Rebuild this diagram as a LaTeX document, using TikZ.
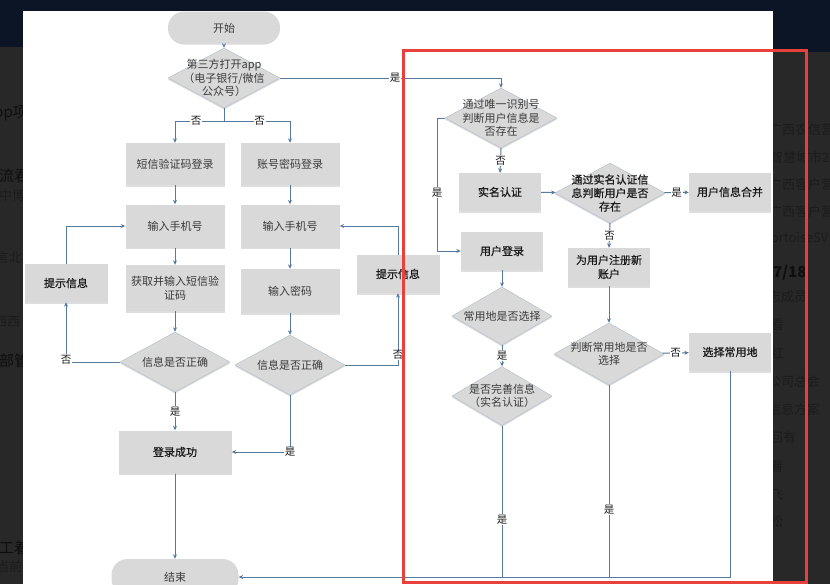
\documentclass[tikz,border=0pt]{standalone}
\usepackage{fontspec}
\setmainfont{Noto Sans CJK SC}
\newfontfamily\semibf{Noto Sans CJK SC}[FakeBold=0.6]
\usetikzlibrary{shapes.geometric,arrows.meta,shadows}
\definecolor{navy}{HTML}{0B1526}
\definecolor{darkbg}{HTML}{282828}
\definecolor{bgtextc}{HTML}{0E0E0E}
\definecolor{bgfaint}{HTML}{1C1C1C}
\definecolor{boxgray}{HTML}{D9D9D9}
\definecolor{diaedge}{HTML}{AEBBCB}
\definecolor{linecol}{HTML}{56799F}
\definecolor{redframe}{HTML}{E8413B}
\definecolor{txt}{HTML}{1A1A1A}
\definecolor{txtlight}{HTML}{3A3A3A}
\begin{document}
\begin{tikzpicture}[x=1pt,y=-1pt,
  shad/.style={drop shadow={shadow xshift=0pt,shadow yshift=-1.6pt,fill=black,opacity=0.13}},
  boxn/.style 2 args={rectangle,fill=boxgray,shad,minimum width=#1,minimum height=#2,inner sep=0pt,align=center,text=txt,font=\semibf\fontsize{11}{14}\selectfont},
  boxl/.style 2 args={boxn={#1}{#2},text=txtlight,font=\normalfont\fontsize{11}{14}\selectfont},
  term/.style 2 args={rectangle,rounded corners=16pt,fill=boxgray,minimum width=#1,minimum height=#2,inner sep=0pt,text=txtlight,font=\fontsize{11}{14}\selectfont},
  dia/.style 2 args={diamond,fill=boxgray,draw=diaedge,line width=0.4pt,shad,minimum width=#1,minimum height=#2,inner sep=0pt},
  dtext/.style={label={[align=center,text=txtlight,font=\fontsize{11}{13.5}\selectfont]center:#1}},
  dtextb/.style={label={[align=center,text=txt,font=\semibf\fontsize{11}{13.5}\selectfont]center:#1}},
  conn/.style={draw=linecol,line width=1pt},
  arr/.style={conn,-{Stealth[length=4.5pt,width=4pt]}},
  lbl/.style={fill=white,inner sep=0.8pt,text=txt,font=\fontsize{10.5}{12}\selectfont},
  bgt/.style={inner sep=0pt,anchor=west,font=\fontsize{15}{16}\selectfont\color{bgtextc}},
  bgf/.style={inner sep=0pt,anchor=west,font=\fontsize{13}{14}\selectfont\color{bgfaint}}
]
\useasboundingbox (0,0) rectangle (830,584);
% screenshot background
\fill[navy] (0,0) rectangle (830,584);
\fill[darkbg] (0,47) rectangle (23,584);
\fill[darkbg] (773,52) rectangle (830,584);
% background clutter text (partly hidden by the canvas)
\node[bgt] (bgA) at (-6,113) {pp项目};
\node[bgt] (bgB) at (-1,176) {流君};
\node[bgf] (bgC) at (-1,196) {中博};
\node[bgf] (bgD) at (-4,258) {言北};
\node[bgf] (bgE) at (-6,322) {西西};
\node[bgt] (bgF) at (-1,361) {部管};
\node[bgt] (bgG) at (-1,548) {工着};
\node[bgf] (bgH) at (-4,567) {当前};
\node[bgf] (bgI) at (769,130) {广西农信营};
\node[bgf] (bgJ) at (770,158) {智慧城市20};
\node[bgf] (bgK) at (769,185) {广西客户营};
\node[bgf] (bgL) at (769,212) {广西客户营};
\node[bgf] (bgM) at (766,238) {tortoiseSV};
\node[bgt] (bgN) at (773,273) {\bfseries 7/18};
\node[bgf] (bgO) at (768,297) {志成员};
\node[bgf] (bgP) at (771,325) {看};
\node[bgf] (bgQ) at (771,353) {红};
\node[bgf] (bgR) at (768,382) {公司总会};
\node[bgf] (bgS) at (768,410) {信息方案};
\node[bgf] (bgT) at (770,438) {回有};
\node[bgf] (bgU) at (770,467) {看};
\node[bgf] (bgV) at (770,495) {飞};
\node[bgf] (bgW) at (770,522) {松};
% white canvas
\fill[white] (23,11) rectangle (773,584);

% ---------- left part ----------
\node[term={112pt}{33pt}] (start) at (224,28) {开始};
\node[dia={112pt}{60pt},dtext={第三方打开app\\（电子银行/微信\\公众号）}] (d1) at (224,78) {};
\coordinate (br) at (224,121);
\node[boxl={99pt}{42pt}] (sms) at (175,164) {短信验证码登录};
\node[boxl={99pt}{42pt}] (acc) at (290,164) {账号密码登录};
\node[boxl={99pt}{43pt}] (phoneL) at (175,226) {输入手机号};
\node[boxl={99pt}{43pt}] (phoneR) at (290,226) {输入手机号};
\node[boxl={99pt}{46pt}] (getcode) at (175,288) {获取并输入短信验\\证码};
\node[boxl={99pt}{44pt}] (pwd) at (290,291) {输入密码};
\node[boxn={83pt}{38pt}] (tipL) at (66,283) {提示信息};
\node[boxn={83pt}{38pt}] (tipR) at (398,274) {提示信息};
\node[dia={110pt}{60pt},dtext={信息是否正确}] (dL) at (175,362) {};
\node[dia={110pt}{60pt},dtext={信息是否正确}] (dR) at (290,365) {};
\node[boxn={113pt}{43pt}] (success) at (175,452) {登录成功};
\node[term={127pt}{36pt}] (end) at (175,577) {结束};

\draw[arr] (start) -- (d1);
\draw[conn] (d1.south) -- (br);
\draw[arr] (br) -| node[lbl,pos=0.285]{否} (sms.north);
\draw[arr] (br) -| node[lbl,pos=0.27]{否} (acc.north);
\draw[arr] (sms) -- (phoneL);
\draw[arr] (phoneL) -- (getcode);
\draw[arr] (getcode) -- (dL);
\draw[arr] (acc) -- (phoneR);
\draw[arr] (phoneR) -- (pwd);
\draw[arr] (pwd) -- (dR);
\draw[arr] (dL.west) -| node[lbl,pos=0.52]{否} (tipL.south);
\draw[arr] (tipL.north) |- (phoneL.west);
\draw[arr] (dL.south) -- node[lbl]{是} (success.north);
\draw[arr] (dR.south) |- node[lbl,pos=0.5]{是} (success.east);
\draw[arr] (dR.east) -| node[lbl,pos=0.57]{否} (tipR.south);
\draw[arr] (tipR.north) |- (phoneR.east);
\draw[arr] (success) -- (end);

% ---------- right part ----------
\node[dia={112pt}{60pt},dtext={通过唯一识别号\\判断用户信息是\\否存在}] (dU) at (501,118) {};
\coordinate (k) at (437,118);
\node[boxn={82pt}{38pt}] (rn) at (500,192) {实名认证};
\node[boxn={82pt}{38pt}] (ul) at (502,251) {用户登录};
\node[dia={110pt}{60pt},dtextb={通过实名认证信\\息判断用户是否\\存在}] (dR2) at (610,193) {};
\node[boxn={82pt}{38pt}] (merge) at (730,192) {用户信息合并};
\node[boxn={82pt}{38pt}] (reg) at (609,267) {为用户注册新\\账户};
\node[dia={110pt}{62pt},dtext={判断常用地是否\\选择}] (dJ) at (609,354) {};
\node[boxn={82pt}{38pt}] (selloc) at (730,352) {选择常用地};
\node[dia={100pt}{58pt},dtext={常用地是否选择}] (dC) at (502,316) {};
\node[dia={100pt}{59pt},dtext={是否完善信息\\（实名认证）}] (dP) at (502,396) {};

\draw[arr] (d1.east) -| node[lbl,pos=0.26]{是} (dU.north);
\draw[arr] (dU.south) -- node[lbl]{否} (rn.north);
\draw[arr] (dU.west) -- (k) |- node[lbl,pos=0.28]{是} (ul.west);
\draw[arr] (rn) -- (dR2);
\draw[arr] (dR2) -- node[lbl]{是} (merge);
\draw[arr] (dR2.south) -- node[lbl]{否} (reg.north);
\draw[arr] (reg) -- (dJ);
\draw[arr] (dJ) -- node[lbl]{否} (selloc);
\draw[arr] (ul) -- (dC);
\draw[arr] (dC) -- node[lbl]{是} (dP);
\draw[conn] (dP.south) -- node[lbl,pos=0.62]{是} (dP.south |- end.east);
\draw[conn] (dJ.south) -- node[lbl,pos=0.65]{是} (dJ.south |- end.east);
\draw[arr] (selloc.south) |- (end.east);

% red highlight frame
\draw[redframe,line width=3pt] (403,50) rectangle (806,582);
\end{tikzpicture}
\end{document}
